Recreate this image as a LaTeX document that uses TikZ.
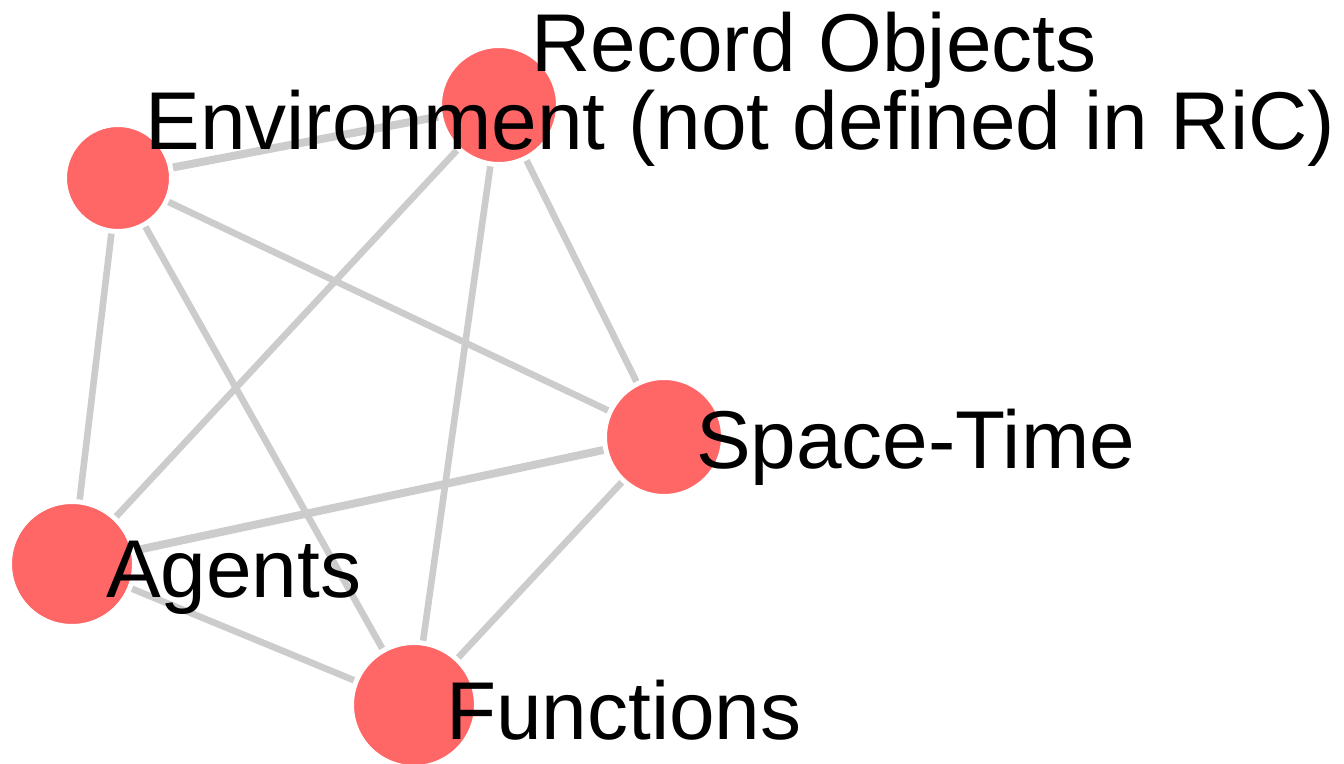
\documentclass[tikz,border=0pt]{standalone}
\usepackage{fontspec}
\setmainfont{Liberation Sans}
\definecolor{nodered}{HTML}{FF6666}
\definecolor{edgegray}{HTML}{CCCCCC}
\begin{document}
\begin{tikzpicture}[x=0.5pt,y=-0.5pt,
  vertex/.style={circle,fill=nodered,draw=white,line width=2.5pt,inner sep=0pt},
  edge/.style={draw=edgegray,line width=3.3pt},
  thickedge/.style={draw=edgegray,line width=4pt},
  lbl/.style={anchor=base west,inner sep=0pt,outer sep=0pt,font=\fontsize{41}{49}\selectfont}]
\fill[white] (0,0) rectangle (1344,764);
\useasboundingbox (0,0) rectangle (1344,764);
% nodes
\node[vertex,minimum size=53.5pt] (env) at (118,178) {};
\node[vertex,minimum size=59.5pt] (rec) at (499,105) {};
\node[vertex,minimum size=59.5pt] (spt) at (664,437) {};
\node[vertex,minimum size=62.5pt] (agt) at (72,564) {};
\node[vertex,minimum size=62.5pt] (fun) at (414,705) {};
% edges
\draw[thickedge] (env) -- (rec);
\draw[edge] (env) -- (spt);
\draw[edge] (env) -- (agt);
\draw[edge] (env) -- (fun);
\draw[edge] (rec) -- (agt);
\draw[edge] (rec) -- (fun);
\draw[edge] (rec) -- (spt);
\draw[thickedge] (spt) -- (agt);
\draw[edge] (spt) -- (fun);
\draw[edge] (agt) -- (fun);
% labels
\node[lbl] (lrec) at (531.5,72) {Record Objects};
\node[lbl] (lenv) at (145.5,150) {Environment (not defined in RiC)};
\node[lbl] (lspt) at (696,468) {Space-Time};
\node[lbl] (lagt) at (106,597) {Agents};
\node[lbl] (lfun) at (446,739) {Functions};
\end{tikzpicture}
\end{document}
